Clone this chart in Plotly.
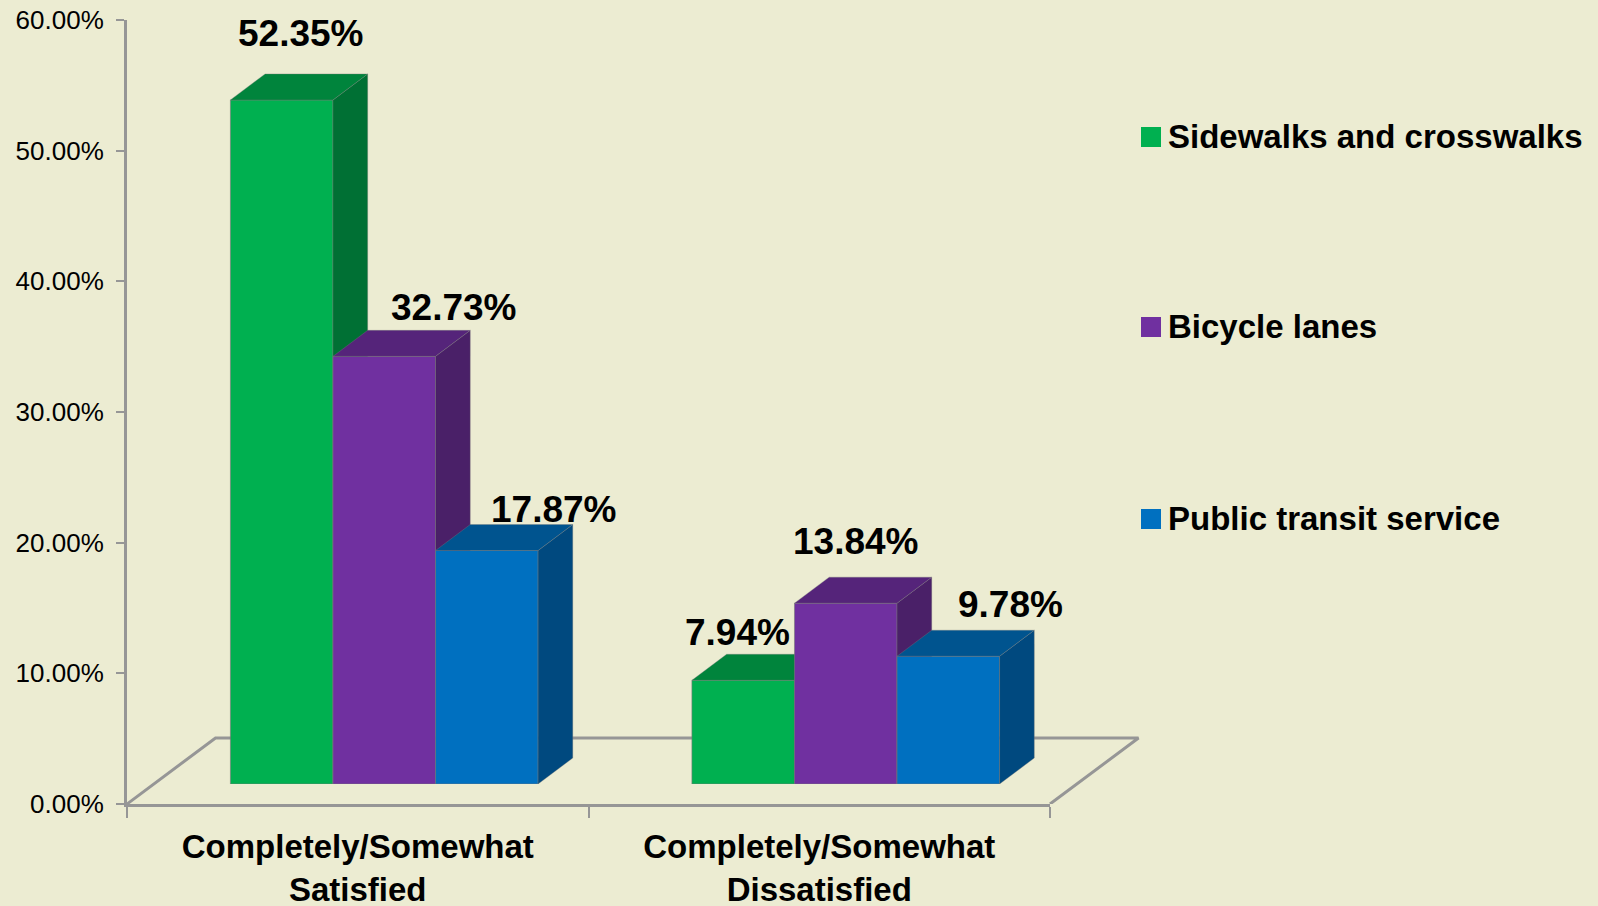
import plotly.graph_objects as go

# ---- data ----
categories = ["Completely/Somewhat<br>Satisfied", "Completely/Somewhat<br>Dissatisfied"]
series_names = ["Sidewalks and crosswalks", "Bicycle lanes", "Public transit service"]
sidewalks = [52.35, 7.94]
bicycle = [32.73, 13.84]
transit = [17.87, 9.78]
y_ticks = [0, 10, 20, 30, 40, 50, 60]

# ---- style ----
W, H = 1598, 906
BG = "#ECECD2"
AXIS = "#969696"
FONT = "Liberation Sans"
front = ["#00B050", "#7030A0", "#0070C0"]
side = ["#007034", "#4A2068", "#00497F"]
top = ["#00843C", "#55247A", "#00548F"]
AX_L, AX_R, AX_T, AX_B = 127, 1050, 20, 804
SHIFT_X, SHIFT_Y = 26.5, 20
PX_X = (AX_R - AX_L) / 2
PX_Y = (AX_B - AX_T) / 60
BAR_W = 1 / 4.5
DEPTH_X, DEPTH_Y = 34.7 / PX_X, 26 / PX_Y
FLOOR_X, FLOOR_Y = 88.5 / PX_X, 66 / PX_Y
FLOOR_PAD = 100  # extra width of the floor's own subplot, px
label_shift = [[(19, 66), (-6, 48)], [(70, 49), (10, 62)], [(67, 41), (62, 52)]]

fig = go.Figure()

# invisible anchor for the base axes
fig.add_trace(go.Scatter(x=[0, 1], y=[0, 0], mode="none", showlegend=False, hoverinfo="skip"))

# floor outline, on its own wider hidden axes
fig.add_trace(go.Scatter(
    x=[-0.5, -0.5 + FLOOR_X, 1.5 + FLOOR_X, 1.5], y=[0, FLOOR_Y, FLOOR_Y, 0],
    mode="lines", line=dict(color=AXIS, width=3), cliponaxis=False,
    showlegend=False, hoverinfo="skip", xaxis="x2", yaxis="y2"))

annotations = []
for j, (name, vals) in enumerate(zip(series_names, [sidewalks, bicycle, transit])):
    n = j + 3
    off = (j - 1.5) * BAR_W
    fig.add_trace(go.Bar(
        x=[0, 1], y=vals, width=BAR_W, offset=off, name=name,
        marker=dict(color=front[j], line=dict(color="rgba(120,120,120,0.6)", width=1)),
        cliponaxis=False, showlegend=False, xaxis=f"x{n}", yaxis=f"y{n}"))
    for i, v in enumerate(vals):
        l = i + off
        r = l + BAR_W
        fig.add_trace(go.Scatter(
            x=[r, r + DEPTH_X, r + DEPTH_X, r, r], y=[0, DEPTH_Y, v + DEPTH_Y, v, 0],
            mode="lines", fill="toself", fillcolor=side[j],
            line=dict(color="rgba(120,120,120,0.35)", width=1), cliponaxis=False,
            showlegend=False, hoverinfo="skip", xaxis=f"x{n}", yaxis=f"y{n}"))
        fig.add_trace(go.Scatter(
            x=[l, r, r + DEPTH_X, l + DEPTH_X, l], y=[v, v, v + DEPTH_Y, v + DEPTH_Y, v],
            mode="lines", fill="toself", fillcolor=top[j],
            line=dict(color="rgba(120,120,120,0.35)", width=1), cliponaxis=False,
            showlegend=False, hoverinfo="skip", xaxis=f"x{n}", yaxis=f"y{n}"))
        dx, dy = label_shift[j][i]
        annotations.append(dict(
            x=l + BAR_W / 2, y=v, xref=f"x{n}", yref=f"y{n}", text=f"<b>{v:.2f}%</b>",
            showarrow=False, xshift=dx, yshift=dy, xanchor="center", yanchor="middle",
            font=dict(family=FONT, size=37, color="black")))

# legend built as text + swatches, so spacing and swatch size match
legend_y = [137, 327, 519]
shapes = []
for name, c, ly in zip(series_names, front, legend_y):
    shapes.append(dict(type="rect", xref="paper", yref="paper",
                       x0=1141 / W, x1=1161 / W, y0=1 - (ly + 10) / H, y1=1 - (ly - 10) / H,
                       fillcolor=c, line=dict(width=0)))
    annotations.append(dict(x=1166 / W, y=1 - (ly - 1) / H, xref="paper", yref="paper",
                            text=f"<b>{name}</b>", showarrow=False, xanchor="left", yanchor="middle",
                            font=dict(family=FONT, size=33, color="black")))

hidden = dict(visible=False, fixedrange=True)
xdom = [AX_L / W, AX_R / W]
ydom = [1 - AX_B / H, 1 - AX_T / H]
xdom2 = [(AX_L + SHIFT_X) / W, (AX_R + SHIFT_X) / W]
ydom2 = [1 - (AX_B - SHIFT_Y) / H, 1 - (AX_T - SHIFT_Y) / H]

layout = dict(
    width=W, height=H, autosize=False, margin=dict(l=0, r=0, t=0, b=0),
    paper_bgcolor=BG, plot_bgcolor="rgba(0,0,0,0)", showlegend=False, barmode="overlay",
    shapes=shapes, annotations=annotations,
    xaxis=dict(domain=xdom, range=[-0.5, 1.5], tickvals=[0, 1], ticktext=categories, ticks="",
               automargin=False, showgrid=False, zeroline=False, showline=True,
               linecolor=AXIS, linewidth=3, ticklabelstandoff=11,
               tickfont=dict(family=FONT, size=33, color="black", weight="bold"),
               minor=dict(tickvals=[-0.5, 0.5, 1.5], ticks="outside", ticklen=11, tickwidth=2,
                          tickcolor=AXIS, showgrid=False)),
    yaxis=dict(domain=ydom, range=[0, 60], tickvals=y_ticks, ticktext=[f"{t:.2f}%" for t in y_ticks],
               automargin=False, ticks="outside", ticklen=8, tickwidth=2, tickcolor=AXIS,
               showgrid=False, zeroline=False, showline=True, linecolor=AXIS, linewidth=3,
               ticklabelstandoff=7, tickfont=dict(family=FONT, size=26, color="black")),
    xaxis2=dict(domain=[AX_L / W, (AX_R + FLOOR_PAD) / W],
                range=[-0.5, 1.5 + FLOOR_PAD / PX_X], anchor="y2", **hidden),
    yaxis2=dict(domain=ydom, range=[0, 60], anchor="x2", **hidden),
)
for n in (3, 4, 5):
    layout[f"xaxis{n}"] = dict(domain=xdom2, range=[-0.5, 1.5], anchor=f"y{n}", **hidden)
    layout[f"yaxis{n}"] = dict(domain=ydom2, range=[0, 60], anchor=f"x{n}", **hidden)
fig.update_layout(**layout)

fig.write_html("out.html", config=dict(displayModeBar=False),
               post_script="document.body.style.margin='0';document.body.style.background='%s';" % BG)
